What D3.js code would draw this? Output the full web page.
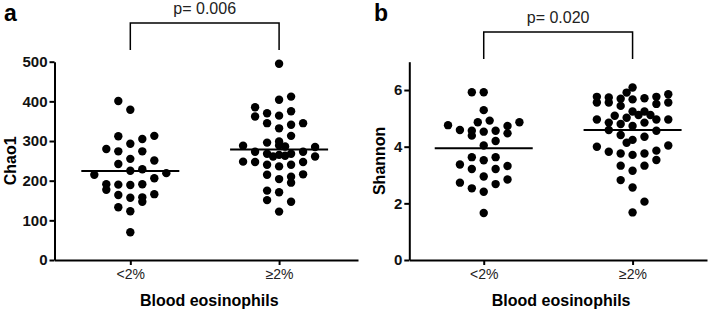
<!DOCTYPE html>
<html lang="en">
<head>
<meta charset="UTF-8">
<title>Blood eosinophils - Chao1 / Shannon</title>
<script src="https://d3js.org/d3.v7.min.js"></script>
<style>
  body { margin: 0; background: #fff; }
  svg { display: block; font-family: "Liberation Sans", Arial, sans-serif; }
</style>
</head>
<body>
<svg width="709" height="309"></svg>
<script>
// categories on the x axis
const groups = ["<2%", "\u22652%"];

const chaoLow    = [401, 379, 312, 305, 313, 293, 280, 274, 274, 255, 251, 242, 225, 229, 215,
                    219, 206, 191, 177, 190, 189, 191, 166, 164, 157, 158, 147, 133, 123, 70];
const chaoLowCol = [-1, 0, -1, 1, 2, 0, -2, -1, 1, 0, 2, -1, 0, 1, -3,
                    3, 2, -2, -2, -1, 0, 1, 2, -1, 0, 1, 1, -1, 0, 0];

// Chao1 values, >=2% group
const chaoHigh    = [495, 412, 404, 385, 370, 364, 375, 362, 345, 332, 341, 345, 313, 296, 299,
                     288, 289, 286, 273, 285, 273, 268, 261, 265, 263, 268, 248, 247, 240, 236,
                     240, 247, 261, 215, 204, 210, 195, 216, 175, 171, 151, 147, 122];
const chaoHighCol = [0, 1, 0, -2, -1, 0, 1, -2, -1, 0, 1, 2, 1, -1, 0,
                     -3, 0, 0.5, 2, 3, -2, -1, -0.5, 0, 0.5, 1, -3, -2, -1, 0,
                     1, 2, 3, -1, 0, 1, 1, 2, -1, 0, -1, 1, 0];

// Shannon values, <2% group
const shanLow    = [5.92, 5.92, 5.29, 4.76, 4.59, 4.56, 4.39, 4.86, 4.92, 4.53, 4.56, 4.73, 4.47, 4.86, 4.20,
                    4.04, 3.63, 3.52, 3.63, 3.37, 3.32, 3.21, 3.21, 2.95, 2.73, 2.53, 2.41, 2.68, 2.84, 1.66];
const shanLowCol = [-1, 0, 0, -3, -2, -1, -1, -0.5, 0.5, 0, 1, 2, 2, 3, 1,
                    0, -1, 0, 1, -2, 2, -1, 1, 0, -2, -1, 0, 1, 2, 0];

// Shannon values, >=2% group
const shanHigh    = [6.09, 5.76, 5.74, 5.69, 5.91, 5.71, 5.76, 5.85, 5.56, 5.56, 5.44, 5.67, 5.51, 5.56,
                     5.09, 5.02, 5.24, 5.24, 5.12, 5.12, 4.96, 4.85, 4.80, 4.73, 4.85, 4.96, 4.96,
                     4.59, 4.41, 4.24, 4.14, 4.35, 4.56, 4.00, 4.04, 3.82, 3.76, 3.71, 3.76, 3.86, 3.53,
                     3.33, 3.15, 3.33, 2.82, 2.56, 2.06, 1.68];
const shanHighCol = [0, -3, -2, -1, -0.5, 1, 2, 3, -3, -2, -1, 0, 2, 3,
                     -1.5, -0.5, 0, 1, 0.5, 1.5, -3, -2, -1, 0, 1, 2, 3,
                     -2, -1, 0, -0.5, 1, 2, -3, 3, -2, -1, 0, 1, 2, 2,
                     -1, 0, 1, -1, 0, 1, 0];

const chaoTicks = [0, 100, 200, 300, 400, 500];
const shanTicks = [0, 2, 4, 6];

const svg = d3.select("svg");

const panels = [
  { tag: "a", yLabel: "Chao1", p: "p= 0.006", yDomain: [0, 500], ticks: chaoTicks,
    sets: [[chaoLow, chaoLowCol], [chaoHigh, chaoHighCol]],
    left: 54.5, right: 358, pad: 0.52, align: 0.49, laneW: 12,
    brTop: 23, brBottom: 50, tagX: 4, yLabelX: 16 },
  { tag: "b", yLabel: "Shannon", p: "p= 0.020", yDomain: [0, 7], ticks: shanTicks,
    sets: [[shanLow, shanLowCol], [shanHigh, shanHighCol]],
    left: 409.3, right: 707, pad: 0.5, align: 0.5, laneW: 11.9,
    brTop: 32, brBottom: 59, tagX: 374, yLabelX: 385 }
];

const yTop = 61.7, yBottom = 260;

panels.forEach(cfg => {
  const g = svg.append("g");

  const x = d3.scalePoint().domain(groups).range([cfg.left, cfg.right])
      .padding(cfg.pad).align(cfg.align);
  const y = d3.scaleLinear().domain(cfg.yDomain).range([yBottom, yTop]);
  const lane = d3.scaleLinear().domain([0, 1]).range([0, cfg.laneW]);

  // y axis
  const ya = g.append("g")
      .attr("transform", `translate(${cfg.left},0)`)
      .call(d3.axisLeft(y).tickValues(cfg.ticks).tickFormat(d3.format("d"))
        .tickSize(5).tickSizeOuter(0).tickPadding(2));
  ya.selectAll("path, line").attr("stroke", "#000").attr("stroke-width", 2);
  ya.selectAll("text").attr("font-size", 15).attr("font-weight", "bold").attr("fill", "#111");

  // x axis
  const xa = g.append("g")
      .attr("transform", `translate(0,${yBottom})`)
      .call(d3.axisBottom(x).tickSize(5).tickSizeOuter(0).tickPadding(4));
  xa.selectAll("path, line").attr("stroke", "#000").attr("stroke-width", 2);
  xa.selectAll("text").attr("font-size", 14).attr("fill", "#222");

  // dots and mean line per group
  cfg.sets.forEach(([vals, cols], i) => {
    const cx = x(groups[i]);
    g.append("g").selectAll("circle")
      .data(vals.map((v, k) => ({ v, c: cols[k] })))
      .join("circle")
      .attr("cx", d => cx + lane(d.c))
      .attr("cy", d => y(d.v))
      .attr("r", 4.2)
      .attr("fill", "#000");

    const m = d3.mean(vals);
    g.append("line")
      .attr("x1", cx - 49).attr("x2", cx + 49)
      .attr("y1", y(m)).attr("y2", y(m))
      .attr("stroke", "#000").attr("stroke-width", 2);
  });

  // significance bracket
  const x0 = x(groups[0]), x1 = x(groups[1]);
  g.append("path")
    .attr("d", `M${x0},${cfg.brBottom}V${cfg.brTop}H${x1}V${cfg.brBottom}`)
    .attr("fill", "none").attr("stroke", "#000").attr("stroke-width", 1.5);
  g.append("text")
    .attr("x", (x0 + x1) / 2).attr("y", cfg.brTop - 9)
    .attr("text-anchor", "middle").attr("font-size", 16).attr("fill", "#222")
    .text(cfg.p);

  // titles
  g.append("text")
    .attr("transform", `translate(${cfg.yLabelX},${(yTop + yBottom) / 2}) rotate(-90)`)
    .attr("text-anchor", "middle").attr("font-size", 16).attr("font-weight", "bold")
    .text(cfg.yLabel);
  g.append("text")
    .attr("x", (cfg.left + cfg.right) / 2 + 3).attr("y", 306)
    .attr("text-anchor", "middle").attr("font-size", 16).attr("font-weight", "bold")
    .text("Blood eosinophils");
  g.append("text")
    .attr("x", cfg.tagX).attr("y", 21)
    .attr("font-size", 23).attr("font-weight", "bold")
    .text(cfg.tag);
});
</script>
</body>
</html>
